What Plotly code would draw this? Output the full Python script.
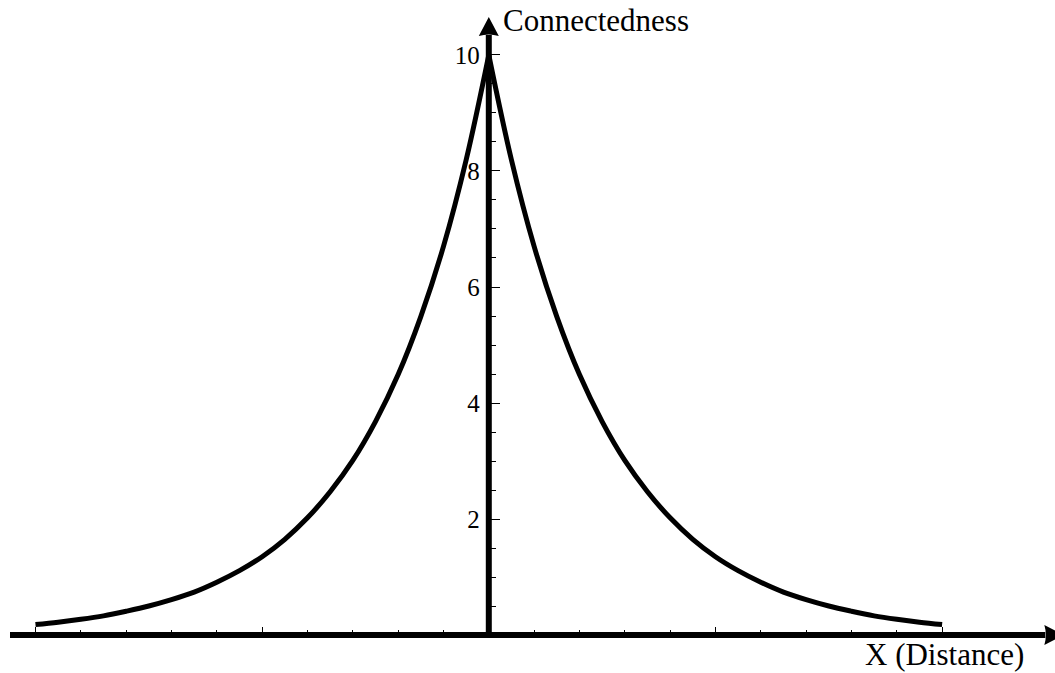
import plotly.graph_objects as go

# Connectedness as a function of distance from the centre (symmetric about 0)
distance = [0.0, 0.1, 0.2, 0.3, 0.4, 0.5, 0.6, 0.7, 0.8, 0.9, 1.0,
            1.1, 1.2, 1.3, 1.4, 1.5, 1.6, 1.7, 1.8, 1.9, 2.0]
connectedness = [10.0, 8.19, 6.70, 5.49, 4.49, 3.68, 3.01, 2.47, 2.02, 1.65, 1.35,
                 1.11, 0.91, 0.74, 0.61, 0.50, 0.41, 0.33, 0.27, 0.22, 0.18]

# Axis ticks
y_major = [2, 4, 6, 8, 10]
y_minor = [0.5, 1, 1.5, 2.5, 3, 3.5, 4.5, 5, 5.5, 6.5, 7, 7.5, 8.5, 9, 9.5]
x_major = [-2, -1, 1, 2]
x_minor = [-1.8, -1.6, -1.4, -1.2, -0.8, -0.6, -0.4, -0.2,
           0.2, 0.4, 0.6, 0.8, 1.2, 1.4, 1.6, 1.8]

W, H = 1055, 673
X_RANGE = [-2.1566, 2.4981]
Y_RANGE = [-0.655, 10.948]

# axis extents (data units)
X_AXIS_START, X_AXIS_END = -2.1125, 2.4555
Y_AXIS_END = 10.345

FONT = "Liberation Serif, Times New Roman, serif"
INK = "#000000"

fig = go.Figure()

right_x = distance
left_x = [-d for d in distance]
for xs in (left_x, right_x):
    fig.add_trace(go.Scatter(
        x=xs, y=connectedness, mode="lines",
        line=dict(color=INK, width=5, shape="spline", smoothing=1.0),
        hoverinfo="skip", showlegend=False,
    ))

# Position of the data origin as paper fractions
x0_frac = (0 - X_RANGE[0]) / (X_RANGE[1] - X_RANGE[0])
y0_frac = (0 - Y_RANGE[0]) / (Y_RANGE[1] - Y_RANGE[0])

shapes = [
    # x axis line
    dict(type="line", xref="x", yref="y", x0=X_AXIS_START, x1=X_AXIS_END, y0=0, y1=0,
         line=dict(color=INK, width=6), layer="above"),
    # y axis line
    dict(type="line", xref="x", yref="y", x0=0, x1=0, y0=0, y1=Y_AXIS_END,
         line=dict(color=INK, width=6), layer="above"),
    # arrowhead on the x axis
    dict(type="path", xref="x", yref="y", xsizemode="pixel", ysizemode="pixel",
         xanchor=X_AXIS_END, yanchor=0,
         path="M -1 10 L 18 0 L -1 -10 Q 2 0 -1 10 Z",
         fillcolor=INK, line=dict(color=INK, width=0), layer="above"),
    # arrowhead on the y axis
    dict(type="path", xref="x", yref="y", xsizemode="pixel", ysizemode="pixel",
         xanchor=0, yanchor=Y_AXIS_END,
         path="M -10 -1 L 0 18 L 10 -1 Q 0 2 -10 -1 Z",
         fillcolor=INK, line=dict(color=INK, width=0), layer="above"),
]

annotations = [
    dict(text="Connectedness", x=0, y=Y_AXIS_END, xref="x", yref="y",
         xanchor="left", yanchor="middle", xshift=12, yshift=14,
         showarrow=False, font=dict(family=FONT, size=31, color=INK)),
    dict(text="X (Distance)", x=X_AXIS_END, y=0, xref="x", yref="y",
         xanchor="right", yanchor="middle", xshift=-19, yshift=-19,
         showarrow=False, font=dict(family=FONT, size=31, color=INK)),
]

fig.update_layout(
    width=W, height=H,
    margin=dict(l=0, r=0, t=0, b=0),
    paper_bgcolor="white", plot_bgcolor="white",
    showlegend=False,
    shapes=shapes,
    annotations=annotations,
    xaxis=dict(
        range=X_RANGE, anchor="free", position=y0_frac,
        showgrid=False, zeroline=False, showline=False,
        tickmode="array", tickvals=x_major, showticklabels=False,
        ticks="inside", ticklen=8, tickwidth=1.2, tickcolor=INK,
        minor=dict(tickmode="array", tickvals=x_minor, ticks="inside",
                   ticklen=5, tickwidth=1, tickcolor=INK, showgrid=False),
        fixedrange=True,
    ),
    yaxis=dict(
        range=Y_RANGE, anchor="free", position=x0_frac, side="left",
        showgrid=False, zeroline=False, showline=False,
        tickmode="array", tickvals=y_major,
        ticks="inside", ticklen=10, tickwidth=1.2, tickcolor=INK,
        ticklabelstandoff=9,
        tickfont=dict(family=FONT, size=25, color=INK),
        minor=dict(tickmode="array", tickvals=y_minor, ticks="inside",
                   ticklen=6, tickwidth=1, tickcolor=INK, showgrid=False),
        fixedrange=True,
    ),
)

fig.write_html("out.html")
